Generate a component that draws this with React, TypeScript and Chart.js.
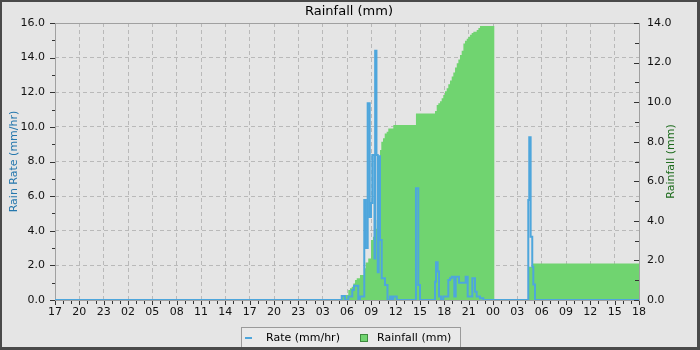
import React, { useEffect, useRef } from "react";
import { Chart, registerables } from "chart.js";

Chart.register(...registerables);

const TITLE = "Rainfall (mm)";
const LEFT_TITLE = "Rain Rate (mm/hr)";
const RIGHT_TITLE = "Rainfall (mm)";
const RATE_LABEL = "Rate (mm/hr)";
const RAIN_LABEL = "Rainfall (mm)";

const X_LABELS = ["17", "20", "23", "02", "05", "08", "11", "14", "17", "20", "23", "03", "06", "09", "12", "15", "18", "21", "00", "03", "06", "09", "12", "15", "18"];

// hours since the first label (17:00); each value holds until the next hour entry
const RATE_HOURS = [0, 35.35, 35.75, 36.16, 36.65, 36.86, 37.39, 37.6, 38.13, 38.3, 38.55, 38.8, 38.96, 39.12, 39.39, 39.47, 39.63, 39.79, 39.91, 40.07, 40.28, 40.68, 40.99, 41.3, 41.51, 41.71, 42.13, 44.5, 44.79, 45, 46.85, 46.97, 47.18, 47.34, 47.59, 47.87, 48.49, 48.7, 48.91, 49.23, 49.4, 49.81, 50.63, 50.88, 51.45, 51.78, 51.99, 52.4, 52.8, 58.35, 58.47, 58.64, 58.84, 58.97, 59.18, 72];
const RATE_VALUES = [0, 0.23, 0, 0.2, 0.58, 0.83, 0, 0.2, 5.78, 3.0, 11.36, 4.8, 5.6, 8.38, 2.4, 14.4, 8.38, 1.6, 8.3, 3.47, 1.25, 0.87, 0, 0.2, 0, 0.2, 0, 6.45, 0.87, 0, 1.06, 2.18, 1.64, 0.2, 0, 0.2, 1.16, 1.25, 1.35, 0.2, 1.35, 1.0, 1.35, 0.2, 1.25, 0.48, 0.2, 0.1, 0, 5.78, 9.4, 3.66, 1.92, 0.9, 0, 0];

const RAIN_HOURS = [0, 35.35, 35.55, 36.16, 36.37, 36.58, 36.78, 36.99, 37.2, 37.6, 38.13, 38.3, 38.62, 38.96, 39.2, 39.46, 39.67, 39.86, 40.07, 40.23, 40.44, 40.65, 40.89, 41.09, 41.71, 44.5, 46.85, 47.06, 47.26, 47.47, 47.67, 47.87, 48.08, 48.29, 48.49, 48.7, 48.91, 49.11, 49.32, 49.53, 49.73, 49.93, 50.14, 50.35, 50.55, 50.76, 50.96, 51.17, 51.37, 51.58, 51.99, 52.2, 52.4, 54.16, 58.35, 58.84, 72];
const RAIN_VALUES = [0, 0.17, 0.25, 0.5, 0.6, 0.67, 0.84, 1.01, 1.1, 1.26, 1.6, 1.9, 2.1, 3.03, 3.2, 3.6, 4.04, 7.16, 7.58, 8.0, 8.17, 8.42, 8.5, 8.67, 8.84, 9.43, 9.55, 9.85, 9.95, 10.05, 10.2, 10.36, 10.55, 10.7, 10.9, 11.1, 11.3, 11.5, 11.75, 11.96, 12.15, 12.38, 12.6, 12.97, 13.1, 13.2, 13.3, 13.4, 13.5, 13.56, 13.64, 13.75, 13.85, 0, 1.68, 1.85, 1.85];

const X_MAX = 72;
const LEFT_MAX = 16;
const RIGHT_MAX = 14;

const FONT = "'DejaVu Sans', 'Liberation Sans', sans-serif";
const BLUE = "#4ea6dc";
const GREEN = "#70d470";

const decor = {
  id: "decor",
  beforeDraw(chart: any) {
    const { ctx, width, height } = chart;
    ctx.save();
    ctx.fillStyle = "#e5e5e5";
    ctx.fillRect(0, 0, width, height);
    ctx.restore();
  },
  beforeDatasetsDraw(chart: any) {
    const { ctx, chartArea: a } = chart;
    ctx.save();
    ctx.strokeStyle = "#a0a0a0";
    ctx.lineWidth = 1;
    ctx.strokeRect(Math.round(a.left) + 0.5, Math.round(a.top) + 0.5, Math.round(a.right - a.left), Math.round(a.bottom - a.top));
    ctx.restore();
  },
  afterDraw(chart: any) {
    const { ctx, chartArea: a, width, height } = chart;
    const xs = chart.scales.x;
    const yl = chart.scales.y;
    const yr = chart.scales.y1;
    ctx.save();
    ctx.strokeStyle = "#333";
    ctx.lineWidth = 1;
    ctx.beginPath();
    for (let h = 0; h <= X_MAX; h++) {
      const px = Math.round(xs.getPixelForValue(h)) + 0.5;
      const len = h % 3 === 0 ? 4 : 3;
      ctx.moveTo(px, Math.round(a.bottom) + 1);
      ctx.lineTo(px, Math.round(a.bottom) + 1 + len);
    }
    for (let v = 0; v <= LEFT_MAX; v++) {
      const py = Math.round(yl.getPixelForValue(v)) + 0.5;
      const len = v % 2 === 0 ? 5 : 3;
      ctx.moveTo(Math.round(a.left) - len, py);
      ctx.lineTo(Math.round(a.left), py);
    }
    for (let v = 0; v <= RIGHT_MAX; v++) {
      const py = Math.round(yr.getPixelForValue(v)) + 0.5;
      const len = v % 2 === 0 ? 5 : 4;
      ctx.moveTo(Math.round(a.right) - len, py);
      ctx.lineTo(Math.round(a.right), py);
    }
    ctx.stroke();

    // title
    ctx.fillStyle = "#000";
    ctx.font = `13px ${FONT}`;
    ctx.textAlign = "center";
    ctx.textBaseline = "middle";
    ctx.fillText(TITLE, 349, 11.5);

    // axis titles
    const midY = (a.top + a.bottom) / 2;
    ctx.font = `11px ${FONT}`;
    ctx.save();
    ctx.translate(14, midY);
    ctx.rotate(-Math.PI / 2);
    ctx.fillStyle = "#2577ad";
    ctx.fillText(LEFT_TITLE, 0, 0);
    ctx.restore();
    ctx.save();
    ctx.translate(671, midY);
    ctx.rotate(-Math.PI / 2);
    ctx.fillStyle = "#1c6b1c";
    ctx.fillText(RIGHT_TITLE, 0, 0);
    ctx.restore();

    // legend
    ctx.fillStyle = "#e9e9e9";
    ctx.fillRect(241.5, 327.5, 219, 24);
    ctx.strokeStyle = "#9a9a9a";
    ctx.strokeRect(241.5, 327.5, 219, 24);
    ctx.fillStyle = BLUE;
    ctx.fillRect(245, 337, 7, 2);
    ctx.fillStyle = "#000";
    ctx.textAlign = "left";
    ctx.font = `11px ${FONT}`;
    ctx.fillText(RATE_LABEL, 266, 338);
    ctx.fillStyle = GREEN;
    ctx.fillRect(360, 334, 8, 8);
    ctx.strokeStyle = "#3f8a3f";
    ctx.strokeRect(360.5, 334.5, 7, 7);
    ctx.fillStyle = "#000";
    ctx.fillText(RAIN_LABEL, 377, 338);

    // outer border
    ctx.fillStyle = "#4a4a4a";
    ctx.fillRect(0, 0, width, 2);
    ctx.fillRect(0, 0, 2, height);
    ctx.fillRect(width - 3, 0, 3, height);
    ctx.fillRect(0, height - 3, width, 3);
    ctx.restore();
  },
};

export default function App() {
  const ref = useRef<HTMLCanvasElement | null>(null);

  useEffect(() => {
    document.body.style.margin = "0";
    const canvas = ref.current;
    if (!canvas) return;
    const rateData = RATE_HOURS.map((h, i) => ({ x: h, y: RATE_VALUES[i] }));
    const rainData = RAIN_HOURS.map((h, i) => ({ x: h, y: RAIN_VALUES[i] }));
    const tickFont = { family: FONT, size: 11 };
    const chart = new Chart(canvas, {
      type: "line",
      data: {
        datasets: [
          {
            label: RATE_LABEL,
            data: rateData,
            yAxisID: "y",
            stepped: "before",
            borderColor: BLUE,
            borderWidth: 2,
            pointRadius: 0,
            fill: false,
          },
          {
            label: RAIN_LABEL,
            data: rainData,
            yAxisID: "y1",
            stepped: "before",
            borderColor: "rgba(0,0,0,0)",
            borderWidth: 0,
            backgroundColor: GREEN,
            pointRadius: 0,
            fill: "origin",
          },
        ],
      },
      options: {
        responsive: false,
        animation: false,
        devicePixelRatio: 1,
        layout: { padding: { top: 23, left: 0, right: 0, bottom: 0 } },
        plugins: {
          legend: { display: false },
          title: { display: false },
          tooltip: { enabled: false },
        },
        scales: {
          x: {
            type: "linear",
            min: 0,
            max: X_MAX,
            afterFit: (s: any) => { s.height = 50; },
            ticks: {
              stepSize: 3,
              autoSkip: false,
              maxRotation: 0,
              padding: 6,
              color: "#111",
              font: tickFont,
              callback: (v: any) => X_LABELS[Math.round(Number(v) / 3)] ?? "",
            },
            grid: { drawTicks: false, color: "#b9b9b9", lineWidth: 1 },
            border: { display: false, dash: [4, 3] },
          },
          y: {
            position: "left",
            min: 0,
            max: LEFT_MAX,
            afterFit: (s: any) => { s.width = 55; },
            ticks: {
              stepSize: 2,
              padding: 10,
              color: "#111",
              font: tickFont,
              callback: (v: any) => Number(v).toFixed(1),
            },
            grid: { drawTicks: false, color: "#b9b9b9", lineWidth: 1 },
            border: { display: false, dash: [4, 3] },
          },
          y1: {
            position: "right",
            min: 0,
            max: RIGHT_MAX,
            afterFit: (s: any) => { s.width = 61; },
            ticks: {
              stepSize: 2,
              padding: 8,
              color: "#111",
              font: tickFont,
              callback: (v: any) => Number(v).toFixed(1),
            },
            grid: { display: false, drawTicks: false },
            border: { display: false },
          },
        },
      },
      plugins: [decor],
    } as any);
    return () => chart.destroy();
  }, []);

  return <canvas ref={ref} width={700} height={350} style={{ display: "block", width: 700, height: 350 }} />;
}
